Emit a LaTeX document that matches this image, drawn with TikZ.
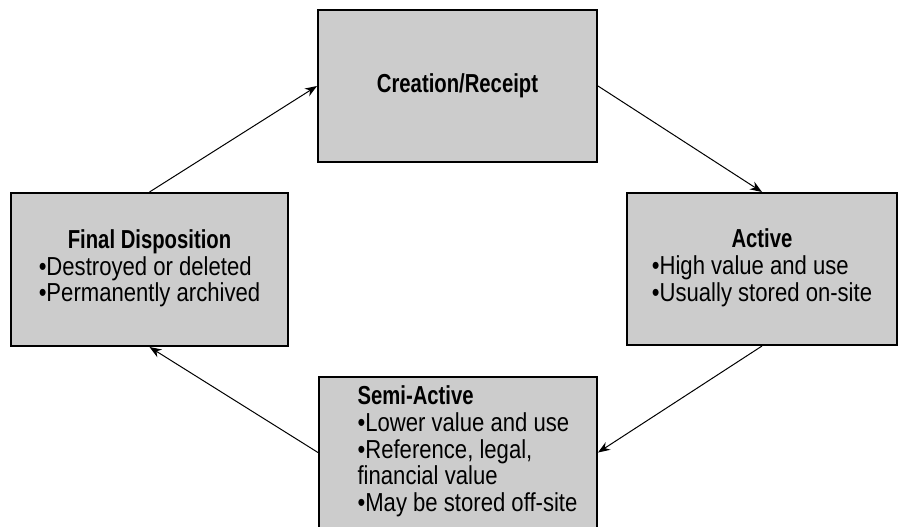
\documentclass[tikz,border=0pt]{standalone}
\usepackage{fontspec}
\setmainfont{Liberation Sans}[FakeStretch=0.85,BoldFeatures={FakeStretch=0.78}]
\usetikzlibrary{arrows.meta}
\definecolor{boxgray}{gray}{0.8}
\tikzstyle{stage}=[rectangle, draw=black, line width=1pt, fill=boxgray, inner sep=0pt, font=\fontsize{13}{13}\selectfont]
\tikzstyle{flow}=[-{Stealth[length=6pt,width=4.5pt]}, line width=0.5pt]
\newcommand{\stagehead}[1]{\multicolumn{1}{@{}c@{}}{\textbf{#1}}}

\begin{document}
\begin{tikzpicture}[x=0.5pt,y=-0.5pt]
        \useasboundingbox (0,0) rectangle (898,526);
        % the four stages
        \node[stage, minimum width=139.5pt, minimum height=76pt] (create) at (457.5,86) {\textbf{Creation/Receipt}};
        \node[stage, minimum width=135pt, minimum height=76pt] (active) at (762,269)
            {\begin{tabular}{@{}l@{}}\stagehead{Active}\\•High value and use\\•Usually stored on-site\end{tabular}};
        \node[stage, minimum width=139pt, minimum height=75.5pt] (semi) at (458,452.5)
            {\begin{tabular}{@{\hspace{9.5pt}}l@{}}\textbf{Semi-Active}\\•Lower value and use\\•Reference, legal,\\financial value\\•May be stored off-site\end{tabular}};
        \node[stage, minimum width=138.5pt, minimum height=76.5pt] (final) at (149.5,269.5)
            {\begin{tabular}{@{}l@{}}\stagehead{Final Disposition}\\•Destroyed or deleted\\•Permanently archived\end{tabular}};
        % the cycle
        \draw[flow] (create.east) -- (active.north);
        \draw[flow] (active.south) -- (semi.east);
        \draw[flow] (semi.west) -- (final.south);
        \draw[flow] (final.north) -- (create.west);
\end{tikzpicture}
\end{document}
